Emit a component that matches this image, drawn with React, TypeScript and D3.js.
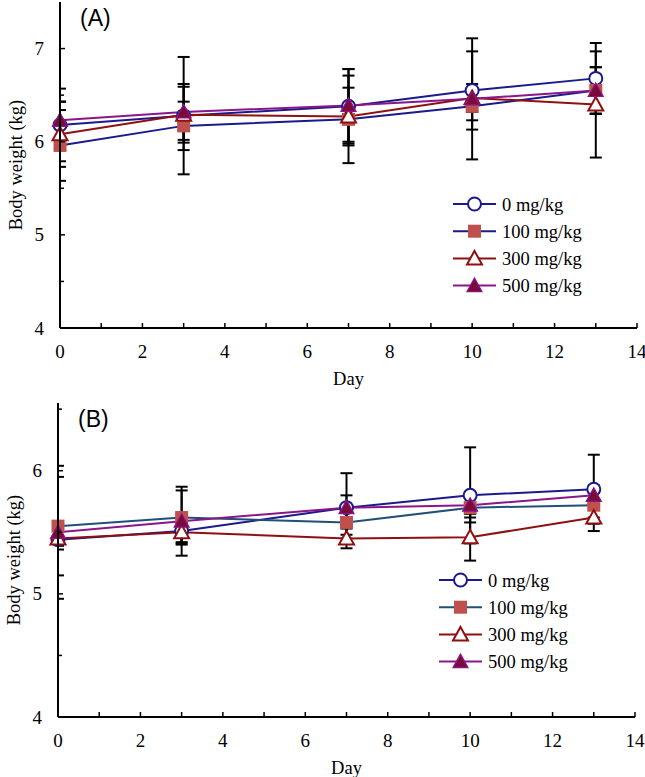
import React from "react";
import * as d3 from "d3";

// ---------- DATA ----------
const days = [0, 3, 7, 10, 13];
const doseLabels = ["0 mg/kg", "100 mg/kg", "300 mg/kg", "500 mg/kg"];
const xTickLabels = [0, 2, 4, 6, 8, 10, 12, 14];
const aYTickLabels = [4, 5, 6, 7];
const bYTickLabels = [4, 5, 6];

// Panel A means (kg)
const aMean0 = [6.18, 6.28, 6.38, 6.55, 6.68];
const aMean100 = [5.96, 6.17, 6.24, 6.38, 6.55];
const aMean300 = [6.08, 6.29, 6.27, 6.47, 6.40];
const aMean500 = [6.23, 6.32, 6.39, 6.46, 6.55];
// Panel A SD
const aSd0 = [0.39, 0.63, 0.40, 0.42, 0.38];
const aSd100 = [0.38, 0.26, 0.47, 0.15, 0.25];
const aSd300 = [0.35, 0.30, 0.31, 0.15, 0.57];
const aSd500 = [0.20, 0.30, 0.39, 0.65, 0.25];

// Panel B means (kg)
const bMean0 = [5.44, 5.51, 5.70, 5.80, 5.85];
const bMean100 = [5.55, 5.62, 5.58, 5.70, 5.72];
const bMean300 = [5.45, 5.50, 5.45, 5.46, 5.62];
const bMean500 = [5.50, 5.59, 5.70, 5.72, 5.80];
// Panel B SD
const bSd0 = [0.08, 0.10, 0.28, 0.39, 0.28];
const bSd100 = [0.40, 0.22, 0.10, 0.12, 0.10];
const bSd300 = [0.06, 0.08, 0.08, 0.19, 0.11];
const bSd500 = [0.54, 0.28, 0.10, 0.10, 0.08];

// ---------- STYLE ----------
const SERIF = "'Liberation Serif', 'Times New Roman', serif";
const SANS = "'Liberation Sans', Arial, sans-serif";
const markerKinds = ["circle", "square", "openTri", "fillTri"];
const markerFill = ["#ffffff", "#C0504D", "#ffffff", "#7A0A3A"];
const markerStroke = ["#1A1A8C", "#C0504D", "#8E1010", "#8B158B"];
const aLineColors = ["#1A1A8C", "#1A1A8C", "#8E1010", "#8B158B"];
const bLineColors = ["#1A1A8C", "#1F4F7A", "#8E1010", "#8B158B"];

function Marker({ kind, x, y, fill, stroke }: any) {
  if (kind === "circle")
    return <circle cx={x} cy={y} r={6.5} fill={fill} stroke={stroke} strokeWidth={2} />;
  if (kind === "square")
    return <rect x={x - 6.5} y={y - 6.5} width={13} height={13} fill={fill} />;
  const s = 7.5;
  const pts = `${x},${y - s} ${x + s},${y + s * 0.8} ${x - s},${y + s * 0.8}`;
  if (kind === "openTri")
    return <polygon points={pts} fill={fill} stroke={stroke} strokeWidth={2} />;
  return <polygon points={pts} fill={fill} stroke={stroke} strokeWidth={1.2} />;
}

function Panel({ id, label, means, sds, lineColors, yMax, yTicks, box, legend }: any) {
  const x = d3.scaleLinear().domain([0, 14]).range([box.left, box.right]);
  const y = d3.scaleLinear().domain([4, yMax]).range([box.bottom, box.top]);
  const minorY = d3.range(4.5, yMax, 0.5).filter((v) => Math.abs(v - Math.round(v)) > 0.01);
  const xMinor = d3.range(0, 15, 1);
  const line = d3
    .line<number>()
    .x((_, i) => x(days[i]))
    .y((d) => y(d));
  return (
    <g>
      <defs>
        <clipPath id={`clip-${id}`}>
          <rect x={box.left} y={box.top - 10} width={box.right - box.left + 20} height={box.bottom - box.top + 10} />
        </clipPath>
      </defs>
      {/* error bars */}
      <g clipPath={`url(#clip-${id})`} stroke="#000" strokeWidth={2}>
        {means.map((m: number[], si: number) =>
          m.map((v, i) => {
            const cx = x(days[i]);
            const hi = y(v + sds[si][i]);
            const lo = y(v - sds[si][i]);
            return (
              <g key={`e${si}-${i}`}>
                <line x1={cx} x2={cx} y1={hi} y2={lo} />
                <line x1={cx - 6} x2={cx + 6} y1={hi} y2={hi} />
                <line x1={cx - 6} x2={cx + 6} y1={lo} y2={lo} />
              </g>
            );
          })
        )}
      </g>
      {/* lines */}
      {means.map((m: number[], si: number) => (
        <path key={`l${si}`} d={line(m) || ""} fill="none" stroke={lineColors[si]} strokeWidth={2} />
      ))}
      {/* markers */}
      {means.map((m: number[], si: number) =>
        m.map((v, i) => (
          <Marker
            key={`m${si}-${i}`}
            kind={markerKinds[si]}
            x={x(days[i])}
            y={y(v)}
            fill={markerFill[si]}
            stroke={markerStroke[si]}
          />
        ))
      )}
      {/* axes */}
      <line x1={box.left} x2={box.left} y1={y(yMax)} y2={box.bottom} stroke="#000" strokeWidth={2} />
      <line x1={box.left} x2={box.right} y1={box.bottom} y2={box.bottom} stroke="#000" strokeWidth={2} />
      {yTicks.map((t: number) => (
        <g key={`yt${t}`}>
          <line x1={box.left} x2={box.left + 5} y1={y(t)} y2={y(t)} stroke="#000" strokeWidth={1.5} />
          <text x={box.left - 16} y={y(t) + 6.5} textAnchor="end" fontFamily={SERIF} fontSize={19}>
            {t}
          </text>
        </g>
      ))}
      {minorY.map((t: number) => (
        <line key={`ym${t}`} x1={box.left} x2={box.left + 4} y1={y(t)} y2={y(t)} stroke="#000" strokeWidth={1.5} />
      ))}
      {xMinor.map((t: number) => (
        <line key={`xt${t}`} x1={x(t)} x2={x(t)} y1={box.bottom} y2={box.bottom - 5} stroke="#000" strokeWidth={1.5} />
      ))}
      {xTickLabels.map((t: number) => (
        <text key={`xl${t}`} x={x(t)} y={box.bottom + 30} textAnchor="middle" fontFamily={SERIF} fontSize={19}>
          {t}
        </text>
      ))}
      <text x={x(7)} y={box.bottom + 57} textAnchor="middle" fontFamily={SERIF} fontSize={18.5}>
        Day
      </text>
      <text
        transform={`translate(${box.left - 38},${(y(yMax) + box.bottom) / 2}) rotate(-90)`}
        textAnchor="middle"
        fontFamily={SERIF}
        fontSize={18.5}
      >
        Body weight (kg)
      </text>
      <text x={box.left + 20} y={y(yMax) + 24} fontFamily={SANS} fontSize={23}>
        {label}
      </text>
      {/* legend */}
      {doseLabels.map((d: string, si: number) => {
        const ly = legend.top + si * 27.2;
        return (
          <g key={`lg${si}`}>
            <line x1={legend.left} x2={legend.left + 43} y1={ly} y2={ly} stroke={lineColors[si]} strokeWidth={2} />
            <Marker kind={markerKinds[si]} x={legend.left + 21.5} y={ly} fill={markerFill[si]} stroke={markerStroke[si]} />
            <text x={legend.left + 49} y={ly + 6.5} fontFamily={SERIF} fontSize={18.5}>
              {d}
            </text>
          </g>
        );
      })}
    </g>
  );
}

export default function App() {
  return (
    <svg
      width={645}
      height={777}
      style={{ position: "absolute", left: 0, top: 0, background: "#fff" }}
    >
      <rect width={645} height={777} fill="#fff" />
      <Panel
        id="A"
        label="(A)"
        means={[aMean0, aMean100, aMean300, aMean500]}
        sds={[aSd0, aSd100, aSd300, aSd500]}
        lineColors={aLineColors}
        yMax={7.5}
        yTicks={aYTickLabels}
        box={{ left: 60, right: 637, top: 2, bottom: 328 }}
        legend={{ left: 453, top: 204 }}
      />
      <Panel
        id="B"
        label="(B)"
        means={[bMean0, bMean100, bMean300, bMean500]}
        sds={[bSd0, bSd100, bSd300, bSd500]}
        lineColors={bLineColors}
        yMax={6.55}
        yTicks={bYTickLabels}
        box={{ left: 58, right: 635, top: 403, bottom: 717 }}
        legend={{ left: 439, top: 580 }}
      />
    </svg>
  );
}
